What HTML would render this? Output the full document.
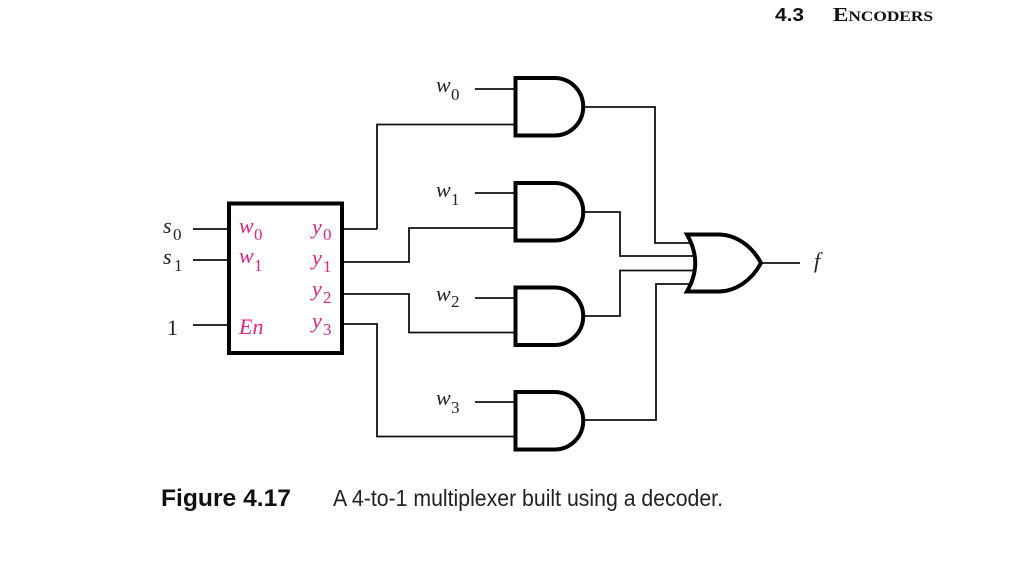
<!DOCTYPE html>
<html><head><meta charset="utf-8"><style>html,body{margin:0;padding:0;background:#fff}svg{display:block}</style></head>
<body><svg width="1024" height="563" viewBox="0 0 1024 563" xmlns="http://www.w3.org/2000/svg">
<rect width="1024" height="563" fill="#fff"/>
<g fill="none" stroke="#111" stroke-width="1.8">
<path d="M475 89H515M377 229V124.500H515M343 229H377M475 193H515M343 262H409V228H515M475 298H515M343 294H409V332.500H515M475 402H515M343 324H377V436.500H515"/>
<path d="M193 229H229M193 260H229M193 325H229"/>
<path d="M583 107H655V243H692M583 212H620V256H696M696 270.500H620V316H583M692 284H656V420H583M760 263H800"/>
</g>
<g fill="#fff" stroke="#000" stroke-width="4">
<rect x="229" y="203.500" width="113" height="149.500"/>
<path d="M515.500 78H554.500A28.750 28.750 0 0 1 554.500 135.500H515.500Z"/>
<path d="M515.500 183H554.500A28.750 28.750 0 0 1 554.500 240.500H515.500Z"/>
<path d="M515.500 287.500H554.500A28.750 28.750 0 0 1 554.500 345H515.500Z"/>
<path d="M515.500 392H554.500A28.750 28.750 0 0 1 554.500 449.500H515.500Z"/>
<path d="M687 234.500H718C736 234.500 752 246 761 263C752 280 736 291.500 718 291.500H687C698 272 698 254 687 234.500Z"/>
</g>
<g font-family="'Liberation Serif',serif" font-size="22" font-style="italic" fill="#222">
<text x="436" y="92">w</text><text x="451" y="100" font-style="normal" font-size="17">0</text>
<text x="436" y="197">w</text><text x="451" y="205" font-style="normal" font-size="17">1</text>
<text x="436" y="301">w</text><text x="451" y="307" font-style="normal" font-size="17">2</text>
<text x="436" y="405">w</text><text x="451" y="413" font-style="normal" font-size="17">3</text>
<text x="163" y="233">s</text><text x="173" y="240" font-style="normal" font-size="17">0</text>
<text x="163" y="264">s</text><text x="174" y="271" font-style="normal" font-size="17">1</text>
<text x="167" y="335" font-style="normal">1</text>
<text x="814" y="268">f</text>
</g>
<g font-family="'Liberation Serif',serif" font-size="22" font-style="italic" fill="#e0237f">
<text x="239" y="233">w</text><text x="254" y="240" font-style="normal" font-size="17">0</text>
<text x="239" y="263">w</text><text x="254" y="271" font-style="normal" font-size="17">1</text>
<text x="312" y="234">y</text><text x="323" y="240" font-style="normal" font-size="17">0</text>
<text x="312" y="265">y</text><text x="323" y="272" font-style="normal" font-size="17">1</text>
<text x="312" y="296">y</text><text x="323" y="303" font-style="normal" font-size="17">2</text>
<text x="312" y="328">y</text><text x="323" y="335" font-style="normal" font-size="17">3</text>
<text x="239" y="334">En</text>
</g>
<text x="775" y="21" font-family="'Liberation Sans',sans-serif" font-weight="700" font-size="18" fill="#111" textLength="29" lengthAdjust="spacingAndGlyphs">4.3</text>
<text x="833" y="21" font-family="'Liberation Serif',serif" font-weight="700" font-size="20" fill="#111" textLength="100" lengthAdjust="spacingAndGlyphs">E<tspan font-size="15">NCODERS</tspan></text>
<text x="161" y="506" font-family="'Liberation Sans',sans-serif" font-weight="700" font-size="24" fill="#111" textLength="130" lengthAdjust="spacingAndGlyphs">Figure 4.17</text>
<text x="333" y="506" font-family="'Liberation Sans',sans-serif" font-size="23" fill="#222" textLength="390" lengthAdjust="spacingAndGlyphs">A 4-to-1 multiplexer built using a decoder.</text>
</svg></body></html>
